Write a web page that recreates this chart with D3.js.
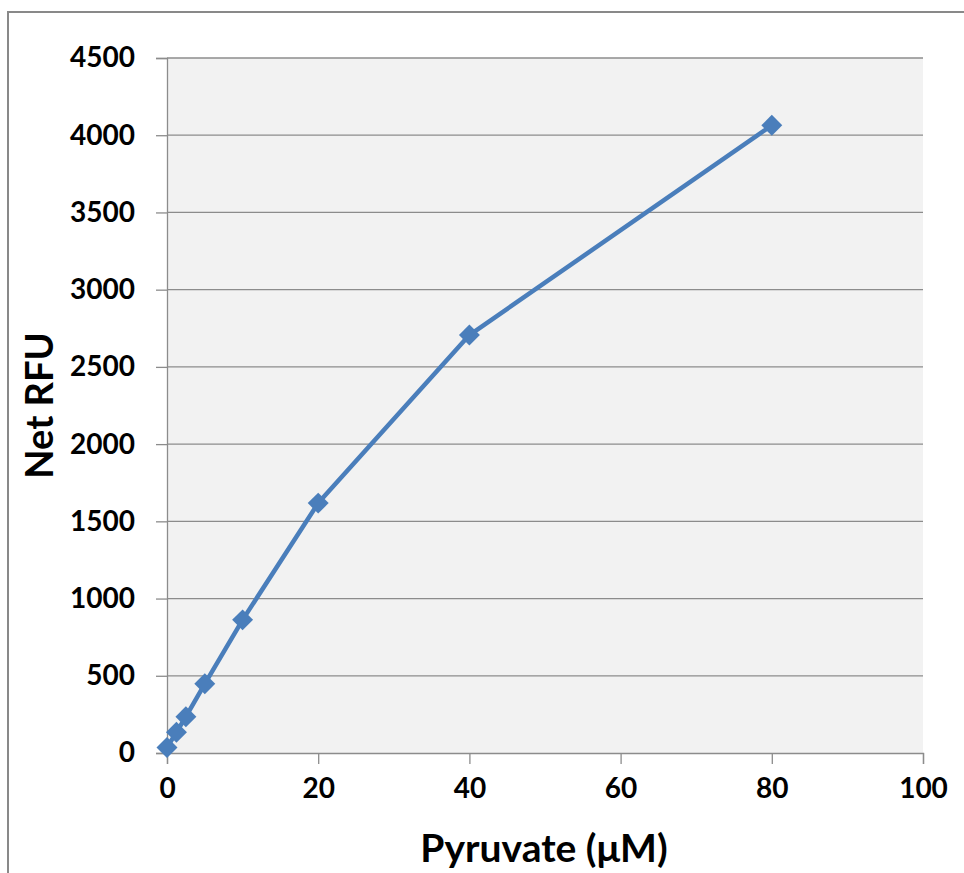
<!DOCTYPE html>
<html><head><meta charset="utf-8">
<script src="https://cdn.jsdelivr.net/npm/d3@7"></script>
<style>html,body{margin:0;padding:0;background:#fff;overflow:hidden}</style>
</head><body>
<script>
const pyruvate = [0, 1.25, 2.5, 5, 10, 20, 40, 80];
const netRFU = [35, 135, 235, 448, 862, 1618, 2706, 4064];
const xTicks = [0, 20, 40, 60, 80, 100];
const yTicks = [0, 500, 1000, 1500, 2000, 2500, 3000, 3500, 4000, 4500];

const W = 964, H = 873;
const m = {left: 167, top: 58, right: 923, bottom: 753};
const svg = d3.select("body").append("svg").attr("width", W).attr("height", H);
const font = "Lato, 'Open Sans', sans-serif";

svg.append("rect").attr("x", 8).attr("y", 12).attr("width", W).attr("height", H)
  .attr("fill", "#fff").attr("stroke", "#898989").attr("stroke-width", 2);

const x = d3.scaleLinear().domain([0, 100]).range([m.left, m.right]);
const y = d3.scaleLinear().domain([0, 4500]).range([m.bottom, m.top]);

svg.append("rect").attr("x", m.left).attr("y", m.top)
  .attr("width", m.right - m.left).attr("height", m.bottom - m.top).attr("fill", "#f2f2f2");

// gridlines
svg.append("g").selectAll("line").data(yTicks.filter(d => d > 0)).join("line")
  .attr("x1", m.left).attr("x2", m.right).attr("y1", d => y(d)).attr("y2", d => y(d))
  .attr("stroke", "#8c8c8c").attr("stroke-width", 1.3);

// y axis
const yAxis = svg.append("g").attr("transform", `translate(${m.left},0)`)
  .call(d3.axisLeft(y).tickValues(yTicks).tickSize(11).tickPadding(10).tickFormat(d3.format("d")));
// x axis
const xAxis = svg.append("g").attr("transform", `translate(0,${m.bottom})`)
  .call(d3.axisBottom(x).tickValues(xTicks).tickSize(11).tickPadding(14));

[yAxis, xAxis].forEach(a => {
  a.select(".domain").attr("stroke", "#8c8c8c").attr("stroke-width", 1.3);
  a.selectAll(".tick line").attr("stroke", "#8c8c8c").attr("stroke-width", 1.3);
  a.selectAll("text").attr("font-family", font).attr("font-weight", 700)
    .attr("font-size", 28).attr("fill", "#000");
});
yAxis.selectAll("text").attr("x", -32);

// line
const line = d3.line().x((d, i) => x(pyruvate[i])).y(d => y(d));
svg.append("path").datum(netRFU).attr("d", line).attr("fill", "none")
  .attr("stroke", "#4a7ebb").attr("stroke-width", 4.5).attr("stroke-linejoin", "round");

// markers
const sym = d3.symbol().type(d3.symbolDiamond2).size(280);
svg.append("g").selectAll("path").data(netRFU).join("path")
  .attr("d", sym)
  .attr("transform", (d, i) => `translate(${x(pyruvate[i])},${y(d)})`)
  .attr("fill", "#4a7ebb");

// axis titles
svg.append("text").attr("x", 544).attr("y", 862).attr("text-anchor", "middle")
  .attr("font-family", font).attr("font-weight", 700).attr("font-size", 39)
  .text("Pyruvate (μM)");
svg.append("text").attr("transform", `translate(53,${(m.top + m.bottom) / 2}) rotate(-90)`)
  .attr("text-anchor", "middle")
  .attr("font-family", font).attr("font-weight", 700).attr("font-size", 38)
  .text("Net RFU");
</script>
</body></html>
